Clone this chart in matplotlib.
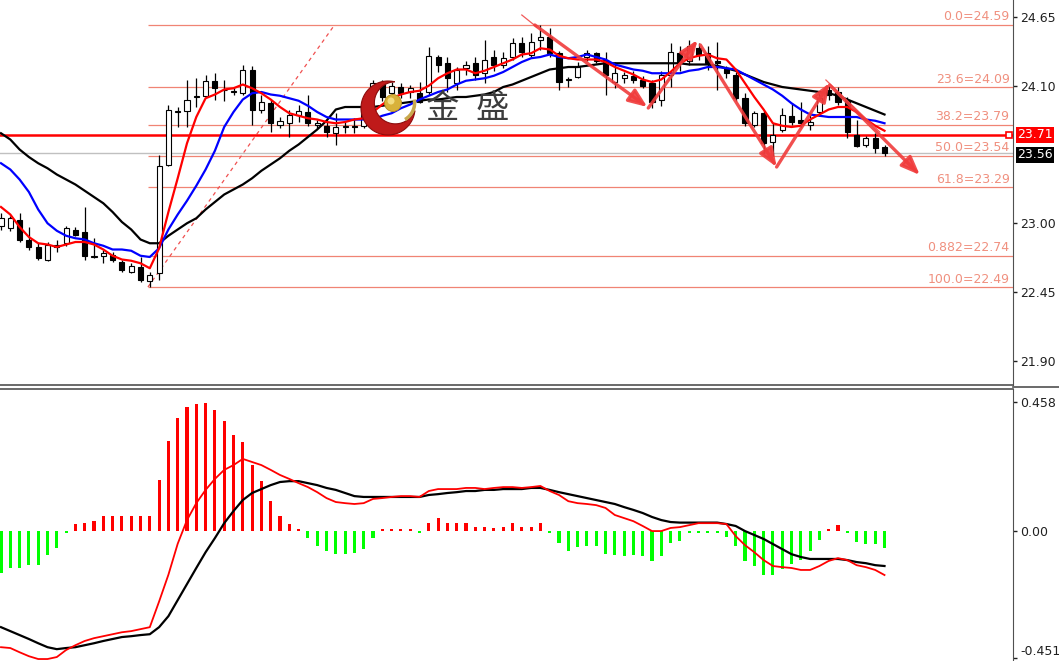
import matplotlib
matplotlib.use('Agg')
import matplotlib.pyplot as plt
from matplotlib.patches import Polygon, Circle, Wedge
from matplotlib.lines import Line2D
import numpy as np

# ---- price candles (one per bar) ----
opens = [22.98, 22.96, 23.03, 22.87, 22.81, 22.71, 22.81, 22.84, 22.95, 22.93,
         22.73, 22.74, 22.75, 22.69, 22.61, 22.65, 22.54, 22.60, 23.47, 23.89,
         23.90, 24.01, 24.02, 24.14, 24.07, 24.05, 24.04, 24.23, 23.91, 23.96,
         23.79, 23.80, 23.87, 23.89, 23.79, 23.78, 23.72, 23.77, 23.78, 23.78,
         24.05, 24.13, 24.04, 24.09, 24.05, 24.04, 24.05, 24.33, 24.28, 24.12,
         24.24, 24.28, 24.20, 24.33, 24.27, 24.33, 24.44, 24.35, 24.47, 24.49,
         24.36, 24.15, 24.17, 24.33, 24.36, 24.31, 24.13, 24.16, 24.18, 24.15,
         24.12, 23.99, 24.19, 24.36, 24.30, 24.40, 24.36, 24.30, 24.24, 24.19,
         24.00, 23.79, 23.88, 23.65, 23.75, 23.86, 23.83, 23.79, 23.89, 24.07,
         24.05, 23.99, 23.71, 23.63, 23.68, 23.61]
highs = [23.08, 23.06, 23.08, 22.97, 22.84, 22.85, 22.87, 22.98, 22.97, 23.13,
         22.88, 22.79, 22.77, 22.71, 22.68, 22.73, 22.61, 23.55, 23.95, 23.93,
         24.15, 24.16, 24.19, 24.20, 24.15, 24.09, 24.27, 24.26, 24.03, 23.99,
         23.85, 23.91, 23.95, 24.03, 23.83, 23.81, 23.88, 23.81, 23.84, 23.95,
         24.15, 24.15, 24.13, 24.12, 24.11, 24.13, 24.41, 24.35, 24.33, 24.25,
         24.30, 24.33, 24.47, 24.39, 24.37, 24.48, 24.49, 24.52, 24.59, 24.56,
         24.38, 24.17, 24.29, 24.39, 24.37, 24.37, 24.29, 24.21, 24.22, 24.18,
         24.15, 24.22, 24.44, 24.42, 24.47, 24.44, 24.42, 24.45, 24.26, 24.21,
         24.04, 23.90, 23.90, 23.80, 23.92, 23.96, 23.97, 23.88, 24.05, 24.10,
         24.09, 24.01, 23.83, 23.70, 23.72, 23.63]
lows = [22.95, 22.94, 22.85, 22.79, 22.71, 22.70, 22.77, 22.82, 22.90, 22.71,
        22.72, 22.68, 22.69, 22.61, 22.60, 22.53, 22.49, 22.55, 23.46, 23.77,
        23.77, 23.93, 24.01, 23.99, 23.98, 24.03, 24.03, 23.79, 23.88, 23.73,
        23.76, 23.69, 23.81, 23.78, 23.76, 23.69, 23.63, 23.72, 23.72, 23.76,
        24.02, 23.98, 23.98, 24.00, 24.00, 23.96, 24.03, 24.21, 24.05, 24.07,
        24.19, 24.15, 24.12, 24.22, 24.24, 24.31, 24.33, 24.33, 24.39, 24.33,
        24.07, 24.09, 24.16, 24.30, 24.28, 24.03, 24.08, 24.12, 24.12, 24.08,
        23.92, 23.94, 24.09, 24.22, 24.27, 24.31, 24.23, 24.07, 24.16, 23.98,
        23.78, 23.77, 23.56, 23.54, 23.73, 23.79, 23.77, 23.75, 23.86, 23.99,
        23.95, 23.68, 23.61, 23.61, 23.56, 23.54]
closes = [23.04, 23.04, 22.87, 22.81, 22.72, 22.83, 22.83, 22.96, 22.91, 22.74,
          22.735, 22.76, 22.71, 22.63, 22.66, 22.55, 22.59, 23.46, 23.91, 23.895,
          23.99, 24.015, 24.14, 24.08, 24.065, 24.06, 24.23, 23.91, 23.97, 23.80,
          23.82, 23.87, 23.90, 23.80, 23.80, 23.73, 23.77, 23.78, 23.77, 23.92,
          24.12, 24.01, 24.10, 24.04, 24.08, 23.97, 24.34, 24.27, 24.16, 24.23,
          24.27, 24.19, 24.31, 24.27, 24.32, 24.44, 24.37, 24.45, 24.49, 24.36,
          24.13, 24.155, 24.25, 24.36, 24.30, 24.19, 24.20, 24.19, 24.15, 24.10,
          23.97, 24.19, 24.37, 24.28, 24.42, 24.35, 24.28, 24.28, 24.20, 24.00,
          23.80, 23.88, 23.64, 23.71, 23.87, 23.81, 23.80, 23.81, 24.00, 24.03,
          23.97, 23.73, 23.62, 23.68, 23.60, 23.56]

# ---- moving averages ----
ma_red = [23.13, 23.07, 22.97, 22.89, 22.84, 22.83, 22.81, 22.83, 22.85, 22.85,
          22.83, 22.79, 22.74, 22.71, 22.70, 22.68, 22.64, 22.80, 23.09, 23.36,
          23.64, 23.85, 24.00, 24.03, 24.07, 24.08, 24.11, 24.08, 24.04, 23.99,
          23.93, 23.88, 23.86, 23.84, 23.83, 23.81, 23.80, 23.81, 23.83, 23.84,
          23.89, 23.95, 24.00, 24.03, 24.05, 24.06, 24.10, 24.16, 24.20, 24.23,
          24.23, 24.20, 24.22, 24.25, 24.28, 24.31, 24.35, 24.36, 24.40, 24.39,
          24.34, 24.32, 24.31, 24.31, 24.31, 24.29, 24.25, 24.22, 24.19, 24.15,
          24.13, 24.15, 24.21, 24.28, 24.32, 24.34, 24.35, 24.32, 24.31, 24.23,
          24.12, 24.01, 23.91, 23.80, 23.78, 23.77, 23.78, 23.83, 23.87, 23.91,
          23.93, 23.93, 23.89, 23.83, 23.78, 23.74]
ma_blue = [23.48, 23.43, 23.35, 23.25, 23.11, 23.00, 22.94, 22.90, 22.88, 22.87,
           22.84, 22.82, 22.79, 22.79, 22.78, 22.74, 22.73, 22.80, 22.95, 23.07,
           23.18, 23.30, 23.43, 23.58, 23.77, 23.89, 23.99, 24.04, 24.05, 24.03,
           24.02, 24.00, 23.98, 23.94, 23.89, 23.85, 23.83, 23.83, 23.83, 23.83,
           23.83, 23.86, 23.88, 23.92, 23.95, 23.99, 24.02, 24.05, 24.07, 24.11,
           24.14, 24.15, 24.16, 24.18, 24.21, 24.25, 24.29, 24.32, 24.33, 24.35,
           24.33, 24.32, 24.33, 24.35, 24.33, 24.31, 24.27, 24.25, 24.23, 24.22,
           24.20, 24.20, 24.20, 24.20, 24.22, 24.23, 24.25, 24.25, 24.24, 24.23,
           24.19, 24.15, 24.11, 24.07, 24.02, 23.96, 23.91, 23.87, 23.86, 23.85,
           23.85, 23.85, 23.85, 23.83, 23.82, 23.80]
ma_black = [23.72, 23.67, 23.59, 23.53, 23.48, 23.44, 23.39, 23.35, 23.31, 23.26,
            23.21, 23.16, 23.09, 23.01, 22.95, 22.87, 22.84, 22.84, 22.90, 22.95,
            23.00, 23.04, 23.11, 23.17, 23.23, 23.27, 23.31, 23.36, 23.42, 23.47,
            23.52, 23.58, 23.63, 23.69, 23.75, 23.82, 23.91, 23.93, 23.93, 23.93,
            23.93, 23.94, 23.95, 23.96, 23.97, 23.98, 23.99, 23.99, 24.00, 24.01,
            24.01, 24.02, 24.03, 24.05, 24.09, 24.11, 24.14, 24.17, 24.20, 24.23,
            24.24, 24.25, 24.25, 24.26, 24.27, 24.28, 24.28, 24.28, 24.28, 24.28,
            24.28, 24.28, 24.28, 24.28, 24.27, 24.27, 24.27, 24.26, 24.24, 24.22,
            24.19, 24.16, 24.13, 24.11, 24.09, 24.08, 24.07, 24.06, 24.05, 24.04,
            24.02, 23.99, 23.96, 23.93, 23.90, 23.87]

# ---- MACD panel ----
macd_hist = [-0.150, -0.132, -0.130, -0.122, -0.120, -0.086, -0.060, -0.006,
             0.026, 0.030, 0.036, 0.052, 0.055, 0.055, 0.055, 0.052, 0.055,
             0.180, 0.320, 0.400, 0.440, 0.450, 0.456, 0.430, 0.390, 0.340, 0.315,
             0.235, 0.176, 0.108, 0.054, 0.024, 0.006,
             -0.024, -0.054, -0.072, -0.080, -0.080, -0.077, -0.065, -0.024,
             0.006, 0.006, 0.006, 0.008, -0.006,
             0.030, 0.045, 0.027, 0.027, 0.027, 0.015, 0.015, 0.010, 0.015, 0.027,
             0.015, 0.015, 0.028, -0.006,
             -0.044, -0.070, -0.056, -0.052, -0.052, -0.080, -0.084, -0.088, -0.084,
             -0.088, -0.106, -0.088, -0.044, -0.035,
             -0.006, -0.006, -0.006, -0.006, -0.020, -0.052, -0.106, -0.124, -0.155,
             -0.155, -0.133, -0.118, -0.104, -0.070, -0.030,
             0.006, 0.020, -0.008, -0.038, -0.046, -0.046, -0.061]
macd_red = [-0.412, -0.415, -0.430, -0.444, -0.454, -0.454, -0.447, -0.422, -0.405, -0.390,
            -0.380, -0.373, -0.366, -0.359, -0.355, -0.348, -0.341, -0.250, -0.155, -0.045,
            0.039, 0.099, 0.146, 0.185, 0.217, 0.234, 0.256, 0.245, 0.234, 0.217,
            0.199, 0.185, 0.170, 0.156, 0.138, 0.117, 0.103, 0.099, 0.096, 0.099,
            0.114, 0.117, 0.121, 0.124, 0.124, 0.121, 0.142, 0.149, 0.149, 0.149,
            0.153, 0.153, 0.149, 0.153, 0.156, 0.156, 0.153, 0.156, 0.160, 0.142,
            0.128, 0.106, 0.099, 0.096, 0.092, 0.082, 0.057, 0.046, 0.035, 0.018,
            0.000, 0.000, 0.011, 0.014, 0.021, 0.028, 0.028, 0.028, 0.025, -0.018,
            -0.050, -0.075, -0.103, -0.124, -0.128, -0.131, -0.138, -0.138, -0.124, -0.106,
            -0.096, -0.103, -0.121, -0.128, -0.138, -0.156]
macd_black = [-0.341, -0.355, -0.369, -0.383, -0.398, -0.412, -0.419, -0.415, -0.412, -0.405,
              -0.398, -0.390, -0.383, -0.376, -0.373, -0.369, -0.366, -0.341, -0.302, -0.245,
              -0.188, -0.131, -0.075, -0.025, 0.028, 0.071, 0.110, 0.135, 0.149, 0.163,
              0.174, 0.177, 0.177, 0.170, 0.163, 0.153, 0.146, 0.135, 0.124, 0.121,
              0.121, 0.121, 0.121, 0.121, 0.121, 0.121, 0.128, 0.131, 0.135, 0.138,
              0.142, 0.142, 0.146, 0.146, 0.149, 0.149, 0.149, 0.153, 0.153, 0.146,
              0.138, 0.131, 0.124, 0.117, 0.110, 0.103, 0.096, 0.085, 0.075, 0.064,
              0.050, 0.039, 0.032, 0.030, 0.030, 0.030, 0.030, 0.030, 0.025, 0.018,
              0.000, -0.014, -0.028, -0.046, -0.064, -0.082, -0.092, -0.099, -0.099, -0.099,
              -0.099, -0.103, -0.110, -0.114, -0.121, -0.124]

# ---- fibonacci retracement ----
fib_levels = [24.59, 24.09, 23.79, 23.54, 23.29, 22.74, 22.49]
fib_labels = ['0.0=24.59', '23.6=24.09', '38.2=23.79', '50.0=23.54',
              '61.8=23.29', '0.882=22.74', '100.0=22.49']
fib_start_bar = 15.8
fib_trend = ([15.8, 35.9], [22.49, 24.59])

price_ticks = [24.65, 24.10, 23.00, 22.45, 21.90]
macd_ticks = [0.458, 0.0, -0.451]
macd_tick_labels = ['0.458', '0.00', '-0.451']
level_line = 23.71
bid_price = 23.56

# hand drawn arrows: (start bar, start price) -> (end bar, end price)
arrows = [((57.4, 24.586), (69.5, 23.93)),
          ((69.6, 23.922), (74.9, 24.466)),
          ((75.2, 24.426), (83.4, 23.45)),
          ((83.4, 23.45), (89.1, 24.122)),
          ((89.1, 24.106), (98.8, 23.386))]
thin_lines = [((56.0, 24.666), (57.6, 24.57)),
              ((88.7, 24.146), (94.5, 23.73))]

W, H = 1059, 661
BAR_PX = 9.3
x = np.arange(len(closes))
xlim = (-1 / BAR_PX, (1013 - 1) / BAR_PX)

fig = plt.figure(figsize=(W / 100, H / 100), dpi=100)
fig.patch.set_facecolor('white')
ax = fig.add_axes([0, 1 - 385 / H, 1013 / W, 385 / H])
ax2 = fig.add_axes([0, 0, 1013 / W, 272 / H])

# ---------- main price panel ----------
fib_color = '#f08474'
ax.hlines(fib_levels, fib_start_bar, xlim[1], color=fib_color, lw=0.9, zorder=1)
for lev, lab in zip(fib_levels, fib_labels):
    ax.annotate(lab, xy=(1, lev), xycoords=('axes fraction', 'data'),
                xytext=(-2.5, 1), textcoords='offset points',
                ha='right', va='bottom', fontsize=9, color='#f0907f')
ax.plot(fib_trend[0], fib_trend[1], color='#f05050', lw=0.9, ls=(0, (3, 3)), zorder=1)

ax.axhline(bid_price, color='#c0c0c0', lw=1, zorder=1)
ax.axhline(level_line, color='#ff0000', lw=1.8, zorder=2)

o = np.array(opens); c = np.array(closes)
up = c >= o
ax.vlines(x, lows, highs, color='black', lw=0.9, zorder=3)
body_h = np.maximum(np.abs(c - o), 0.004)
ax.bar(x, body_h, bottom=np.minimum(o, c), width=0.55,
       color=np.where(up, 'white', 'black'), edgecolor='black', lw=0.8, zorder=4)

ax.plot(x, ma_black, color='black', lw=1.6, zorder=5)
ax.plot(x, ma_blue, color='#0000ff', lw=1.6, zorder=5)
ax.plot(x, ma_red, color='#ff0000', lw=1.6, zorder=6)

for (x0, y0), (x1, y1) in thin_lines:
    ax.plot([x0, x1], [y0, y1], color='#f04848', lw=0.9, alpha=0.9, zorder=7)
for start, end in arrows:
    ax.annotate('', xy=end, xytext=start,
                arrowprops=dict(arrowstyle='-|>,head_length=0.8,head_width=0.32',
                                color='#f03c3c', lw=2.4, alpha=0.9,
                                shrinkA=0, shrinkB=0, mutation_scale=14),
                zorder=7)

ax.set_xlim(*xlim)
ax.set_ylim(21.706, 24.786)
ax.yaxis.tick_right()
ax.set_yticks(price_ticks)
ax.set_yticklabels(['%.2f' % t for t in price_ticks])
ax.tick_params(axis='y', direction='out', length=3, width=1, pad=2,
               labelsize=9, colors='#202020')
ax.set_xticks([])
for s in ['left', 'top']:
    ax.spines[s].set_visible(False)
ax.spines['right'].set_color('#505050')
ax.spines['bottom'].set_color('#505050')
ax.spines['bottom'].set_linewidth(1.2)

# price tags on the axis
ax.annotate('%.2f' % level_line, xy=(1, level_line), xycoords=('axes fraction', 'data'),
            xytext=(3, 0), textcoords='offset points', ha='left', va='center',
            fontsize=9, color='white', annotation_clip=False,
            bbox=dict(boxstyle='square,pad=0.12', fc='#ff0000', ec='none'))
ax.annotate('%.2f' % bid_price, xy=(1, bid_price), xycoords=('axes fraction', 'data'),
            xytext=(3, -1), textcoords='offset points', ha='left', va='center',
            fontsize=9, color='white', annotation_clip=False,
            bbox=dict(boxstyle='square,pad=0.12', fc='black', ec='none'))
ax.plot([(1009 - 1) / BAR_PX], [level_line], marker='s', ms=4.5, mfc='white',
        mec='#ff0000', mew=1.2, clip_on=False, zorder=8)

# ---------- MACD panel ----------
ax2.bar(x, macd_hist, width=0.33,
        color=['#ff0000' if v >= 0 else '#00ff00' for v in macd_hist], zorder=2)
ax2.plot(x, macd_black, color='black', lw=1.6, zorder=3)
ax2.plot(x, macd_red, color='#ff0000', lw=1.3, zorder=4)
ax2.set_xlim(*xlim)
ax2.set_ylim(-0.461, 0.504)
ax2.yaxis.tick_right()
ax2.set_yticks(macd_ticks)
ax2.set_yticklabels(macd_tick_labels)
ax2.tick_params(axis='y', direction='out', length=3, width=1, pad=2,
                labelsize=9, colors='#202020')
# keep the lowest label inside the picture
ax2.get_yticklabels()[-1].set_verticalalignment('bottom')
ax2.set_xticks([])
for s in ['left', 'bottom']:
    ax2.spines[s].set_visible(False)
ax2.spines['right'].set_color('#505050')
ax2.spines['top'].set_color('#505050')
ax2.spines['top'].set_linewidth(1.2)

fig.add_artist(Line2D([1013 / W, 1], [1 - 387 / H] * 2, color='#505050', lw=1.2))

# ---------- watermark logo ----------
lg = fig.add_axes([358 / W, 1 - 138 / H, 60 / W, 60 / H])
lg.set_xlim(0, 60); lg.set_ylim(0, 60); lg.axis('off')
lg.patch.set_alpha(0)
R, r, dd, ang = 27.0, 21.0, 9.0, np.deg2rad(35)
cin = np.array([dd * np.cos(ang), dd * np.sin(ang)])
phi = np.arccos((R ** 2 + dd ** 2 - r ** 2) / (2 * R * dd))
t_out = np.linspace(ang + phi, ang + 2 * np.pi - phi, 120)
outer = np.c_[R * np.cos(t_out), R * np.sin(t_out)]
p0 = outer[0] - cin
psi = (np.arctan2(p0[1], p0[0]) - ang) % (2 * np.pi)
t_in = np.linspace(ang - psi, ang + psi - 2 * np.pi, 120)
inner = np.c_[cin[0] + r * np.cos(t_in), cin[1] + r * np.sin(t_in)]
lg.add_patch(Polygon(np.vstack([outer, inner]) + 30, closed=True,
                     fc='#bf1a1a', ec='#8c0c0c', lw=0.8))
lg.add_patch(Wedge((30 + cin[0], 30 + cin[1]), r, -60, 10, width=3.5,
                   fc='#c9a94e', ec='none'))
lg.add_patch(Circle((35, 35), 8.5, fc='#d8b13a', ec='#b08a20', lw=0.6))
lg.add_patch(Circle((33, 37), 3.5, fc='#f2dc80', ec='none'))

fig.text(442 / W, 1 - 108 / H, '金', ha='center', va='center', fontsize=24,
         color='#3c3c3c', family=['Noto Sans CJK SC', 'DejaVu Sans'])
fig.text(492 / W, 1 - 108 / H, '盛', ha='center', va='center', fontsize=24,
         color='#3c3c3c', family=['Noto Sans CJK SC', 'DejaVu Sans'])

fig.savefig('out.png', dpi=100, facecolor='white')
